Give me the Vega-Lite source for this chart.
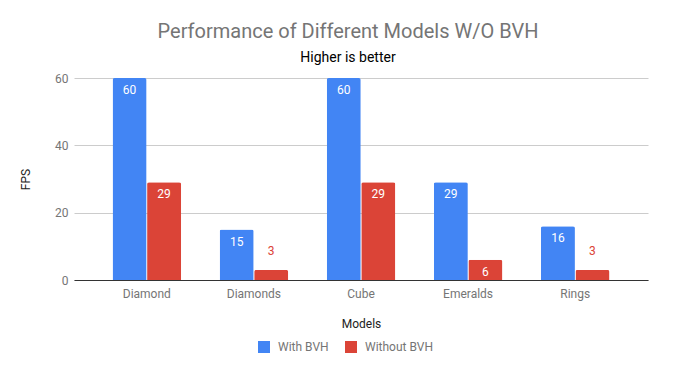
{
  "$schema": "https://vega.github.io/schema/vega-lite/v6.json",
  "width": 574,
  "height": 202,
  "autosize": {"type": "none"},
  "padding": {"left": 74, "top": 78, "right": 48, "bottom": 91},
  "background": "white",
  "config": {"font": "Roboto", "view": {"stroke": null}},
  "title": {
    "text": "Performance of Different Models W/O BVH",
    "subtitle": "Higher is better",
    "anchor": "middle",
    "dx": -13,
    "fontSize": 20,
    "fontWeight": "normal",
    "color": "#757575",
    "subtitleColor": "#000000",
    "subtitleFontSize": 14,
    "subtitlePadding": 9,
    "offset": 7
  },
  "data": {
    "values": [
      {"Model": "Diamond", "Series": "With BVH", "FPS": 60},
      {"Model": "Diamond", "Series": "Without BVH", "FPS": 29},
      {"Model": "Diamonds", "Series": "With BVH", "FPS": 15},
      {"Model": "Diamonds", "Series": "Without BVH", "FPS": 3},
      {"Model": "Cube", "Series": "With BVH", "FPS": 60},
      {"Model": "Cube", "Series": "Without BVH", "FPS": 29},
      {"Model": "Emeralds", "Series": "With BVH", "FPS": 29},
      {"Model": "Emeralds", "Series": "Without BVH", "FPS": 6},
      {"Model": "Rings", "Series": "With BVH", "FPS": 16},
      {"Model": "Rings", "Series": "Without BVH", "FPS": 3}
    ]
  },
  "encoding": {
    "x": {
      "field": "Model",
      "type": "nominal",
      "sort": ["Diamond", "Diamonds", "Cube", "Emeralds", "Rings"],
      "scale": {"paddingInner": 0.36, "paddingOuter": 0.36},
      "axis": {
        "labelAngle": 0,
        "title": "Models",
        "labelColor": "#757575",
        "labelFontSize": 12,
        "labelPadding": 8,
        "titleFontSize": 12,
        "titleFontWeight": "normal",
        "titleColor": "#222222",
        "titlePadding": 19,
        "ticks": false,
        "domainColor": "#333333",
        "domainWidth": 1
      }
    },
    "xOffset": {
      "field": "Series",
      "type": "nominal",
      "sort": ["With BVH", "Without BVH"],
      "scale": {"paddingInner": 0.015}
    },
    "y": {
      "field": "FPS",
      "type": "quantitative",
      "scale": {"domain": [0, 60], "nice": false},
      "axis": {
        "values": [0, 20, 40, 60],
        "gridColor": "#cccccc",
        "domain": false,
        "ticks": false,
        "labelPadding": 6,
        "labelColor": "#757575",
        "labelFontSize": 12,
        "title": "FPS",
        "titleColor": "#222222",
        "titleFontSize": 12,
        "titleFontWeight": "normal",
        "titlePadding": 22
      }
    }
  },
  "layer": [
    {
      "mark": {"type": "bar", "cornerRadiusTopLeft": 2, "cornerRadiusTopRight": 2},
      "encoding": {
        "color": {
          "field": "Series",
          "type": "nominal",
          "scale": {"domain": ["With BVH", "Without BVH"], "range": ["#4285F4", "#DB4437"]},
          "legend": {
            "title": null,
            "orient": "none",
            "direction": "horizontal",
            "legendX": 184,
            "legendY": 263,
            "symbolType": "square",
            "symbolSize": 144,
            "symbolStrokeWidth": 0,
            "labelColor": "#757575",
            "labelFontSize": 12,
            "columnPadding": 16,
            "labelOffset": 8
          }
        }
      }
    },
    {
      "transform": [{"filter": "datum.FPS >= 5"}],
      "mark": {"type": "text", "baseline": "middle", "dy": 12, "color": "white", "fontSize": 12},
      "encoding": {"text": {"field": "FPS", "type": "quantitative"}}
    },
    {
      "transform": [{"filter": "datum.FPS < 5"}],
      "mark": {"type": "text", "baseline": "middle", "dy": -19, "color": "#DB4437", "fontSize": 12},
      "encoding": {"text": {"field": "FPS", "type": "quantitative"}}
    }
  ]
}
